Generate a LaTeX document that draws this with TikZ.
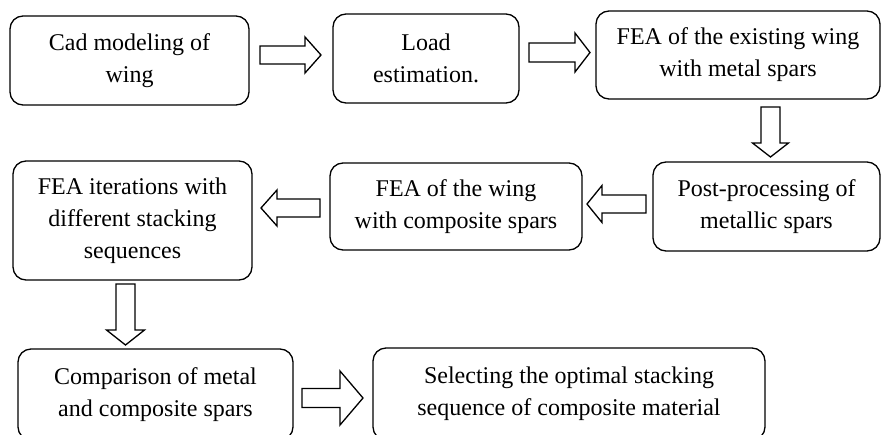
\documentclass[tikz,border=0pt]{standalone}
\usepackage{fontspec}
\setmainfont{Liberation Serif}
\usetikzlibrary{calc}

% hollow block arrow from tail #1 to tip #2:
% #3 half shaft width, #4 half head width, #5 head length
\newcommand{\blockarrow}[5]{%
  \draw[blk] let \p1=(#1), \p2=(#2),
    \n1={atan2(\y2-\y1,\x2-\x1)}, \n2={veclen(\x2-\x1,\y2-\y1)} in
    [shift={(\p1)}, rotate=\n1]
    (0,-#3) -- ({\n2-#5},-#3) -- ({\n2-#5},-#4) -- (\n2,0)
    -- ({\n2-#5},#4) -- ({\n2-#5},#3) -- (0,#3) -- cycle;}

\begin{document}
\begin{tikzpicture}[x=1pt,y=-1pt,
  box/.style={draw, line width=1.3pt, rounded corners=13pt, align=center,
    inner sep=0pt, font=\fontsize{24}{32}\selectfont},
  blk/.style={draw, line width=1.3pt, line join=miter, fill=white}]
\useasboundingbox (0,0) rectangle (881,434);
\clip (0,0) rectangle (881,434);

% process steps
\node[box, minimum width=239pt, minimum height=89pt] (b1) at (129.5,60.5)
  {Cad modeling of\\wing};
\node[box, minimum width=186pt, minimum height=89pt] (b2) at (426,58.5)
  {Load\\estimation.};
\node[box, minimum width=284pt, minimum height=88pt] (b3) at (738,55)
  {FEA of the existing wing\\with metal spars};
\node[box, minimum width=227pt, minimum height=89pt] (b4) at (766.5,206.5)
  {Post-processing of\\metallic spars};
\node[box, minimum width=252pt, minimum height=87pt] (b5) at (456,206.5)
  {FEA of the wing\\with composite spars};
\node[box, minimum width=239pt, minimum height=119pt] (b6) at (132.5,220.5)
  {FEA iterations with\\different stacking\\sequences};
\node[box, minimum width=275pt, minimum height=91pt] (b7) at (155.5,394.5)
  {Comparison of metal\\and composite spars};
\node[box, minimum width=392pt, minimum height=92pt] (b8) at (569,394)
  {Selecting the optimal stacking\\sequence of composite material};

% arrow end points
\coordinate (t1) at (260,55);    \coordinate (h1) at (321,55);
\coordinate (t2) at (529,52.5);  \coordinate (h2) at (590,52.5);
\coordinate (t3) at (770.5,107); \coordinate (h3) at (770.5,157);
\coordinate (t4) at (646,204);   \coordinate (h4) at (587,204);
\coordinate (t5) at (320,208);   \coordinate (h5) at (261,208);
\coordinate (t6) at (125.5,284); \coordinate (h6) at (125.5,345);
\coordinate (t7) at (302,398);   \coordinate (h7) at (363,398);

% flow arrows
\blockarrow{t1}{h1}{9}{18}{16}
\blockarrow{t2}{h2}{9.5}{19.5}{15}
\blockarrow{t3}{h3}{9.5}{18}{14}
\blockarrow{t4}{h4}{9}{18.5}{15}
\blockarrow{t5}{h5}{9}{18}{16}
\blockarrow{t6}{h6}{9.5}{19}{15}
\blockarrow{t7}{h7}{9.5}{27}{23}
\end{tikzpicture}
\end{document}
